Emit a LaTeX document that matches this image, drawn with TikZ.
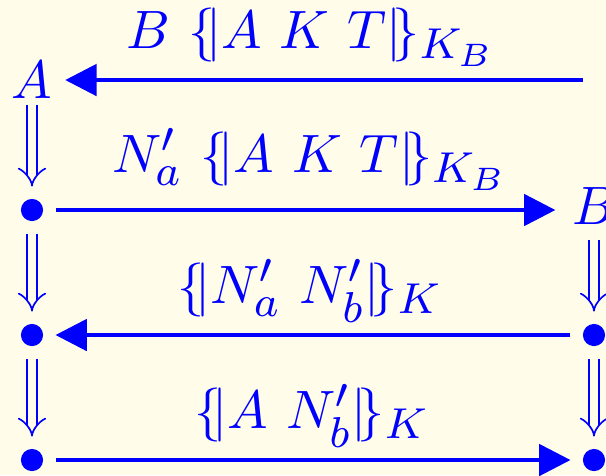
\documentclass[tikz,border=0pt]{standalone}
\usetikzlibrary{arrows.meta}
\DeclareMathSizes{10}{10}{8.2}{6.5}
\definecolor{paper}{RGB}{255,253,233}
\definecolor{ink}{RGB}{0,0,255}
\tikzset{
  agent/.style={inner sep=1pt,text=ink},
  pt/.style={circle,fill=ink,inner sep=0pt,minimum size=4.1pt,outer sep=2.3pt},
  msg/.style={draw=ink,line width=0.73pt,-{Triangle[length=5.8pt,width=5.8pt]}},
  next/.style={draw=ink,double=paper,double distance=1.55pt,line width=0.31pt,-{Implies}},
  lbl/.style={anchor=base,text=ink}
}
\begin{document}
\begin{tikzpicture}[x=0.185pt,y=-0.185pt]
    \fill[paper] (0,0) rectangle (606,475);
    \useasboundingbox (0,0) rectangle (606,475);

    \node[agent] (A) at (32,80) {$A$};
    \node[agent] (B) at (594,206) {$B$};
    \coordinate (b1) at (583,80);
    \node[pt] (a2) at (32,210) {};
    \node[pt] (a3) at (32,335) {};
    \node[pt] (a4) at (32,460) {};
    \node[pt] (b3) at (594,335) {};
    \node[pt] (b4) at (594,460) {};

    \node[lbl] (m1) at (311,48) {$B\ \{\!|A\ K\ T|\!\}_{K_B}$};
    \node[lbl] (m2) at (310,172) {$N'_a\ \{\!|A\ K\ T|\!\}_{K_B}$};
    \node[lbl] (m3) at (310,303) {$\{\!|N'_a\ N'_b|\!\}_K$};
    \node[lbl] (m4) at (312,428) {$\{\!|A\ N'_b|\!\}_K$};

    \draw[msg,shorten >=1.2pt] (b1) -- (A);
    \draw[msg,shorten >=1.9pt] (a2) -- (B.west |- a2);
    \draw[msg] (b3) -- (a3);
    \draw[msg] (a4) -- (b4);

    \draw[next] (A) -- (a2);
    \draw[next] (a2) -- (a3);
    \draw[next] (a3) -- (a4);
    \draw[next,shorten <=1.7pt] (B) -- (b3);
    \draw[next] (b3) -- (b4);
\end{tikzpicture}
\end{document}
